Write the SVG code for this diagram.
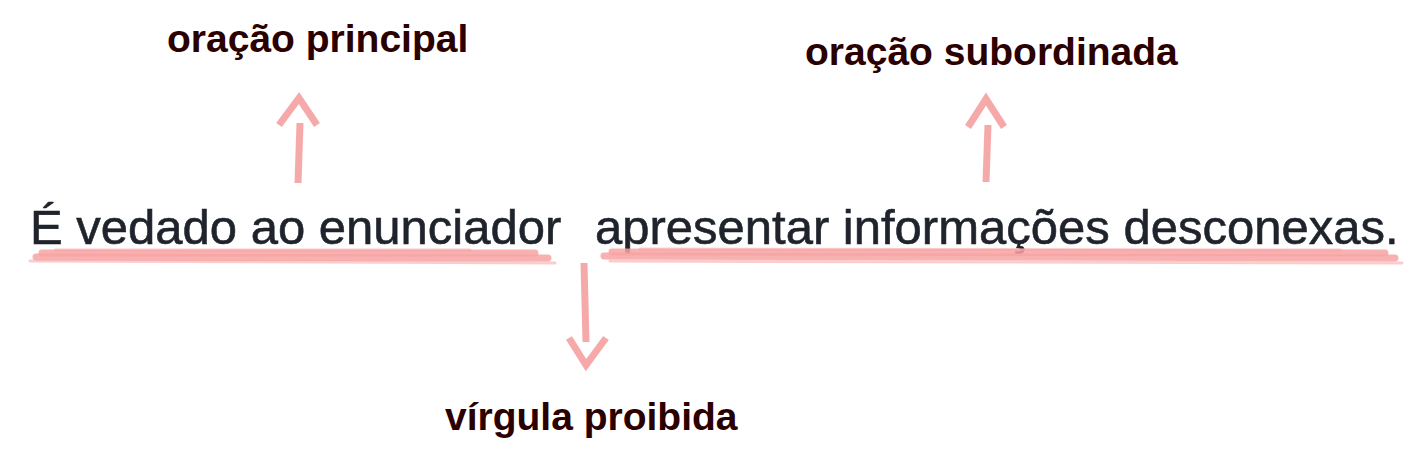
<svg xmlns="http://www.w3.org/2000/svg" width="1409" height="457" viewBox="0 0 1409 457">
<style>
.main{font-family:"Liberation Sans",Arial,sans-serif;font-size:49px;fill:#1f232b;stroke:#1f232b;stroke-width:0.6}
.lbl{font-family:"Liberation Sans",Arial,sans-serif;font-size:39px;font-weight:bold;fill:#2b0000}
.brush{fill:none;stroke:#f7a3a3;stroke-linecap:round;stroke-linejoin:round}
.b1{stroke-width:7;opacity:0.85}
.b2{stroke-width:3;opacity:0.55}
.arr{fill:none;stroke:#f5a0a0;stroke-width:7;stroke-linecap:butt;stroke-linejoin:miter;opacity:0.9}
</style>
<rect width="1409" height="457" fill="#ffffff"/>
<g id="sentence">
<text class="main" x="30" y="244">É vedado ao enunciador</text>
<text class="main" x="595" y="244">apresentar informações desconexas.</text>
</g>
<g id="underlines">
<path class="brush b1" d="M42 253 L535 253"/>
<path class="brush b1" d="M36 257 L548 258"/>
<path class="brush b2" d="M55 250 L470 250"/>
<path class="brush b2" d="M30 261 L555 263"/>
<path class="brush b1" d="M612 252 L1385 253"/>
<path class="brush b1" d="M604 256 L1395 258"/>
<path class="brush b2" d="M640 249 L1340 250"/>
<path class="brush b2" d="M610 261 L1402 263"/>
</g>
<g id="connectors">
<path class="arr" d="M298 183 L300 123"/>
<path class="arr" d="M279 125 L299 98 L317 125"/>
<path class="arr" d="M986 182 L988 125"/>
<path class="arr" d="M968 127 L986 99 L1004 127"/>
<path class="arr" d="M584 263 L586 342"/>
<path class="arr" d="M569 338 L586 365 L606 338"/>
</g>
<g id="label-principal">
<text class="lbl" x="167" y="52">oração principal</text>
</g>
<g id="label-subordinada">
<text class="lbl" x="805" y="65">oração subordinada</text>
</g>
<g id="label-virgula">
<text class="lbl" x="445" y="430">vírgula proibida</text>
</g>
</svg>
